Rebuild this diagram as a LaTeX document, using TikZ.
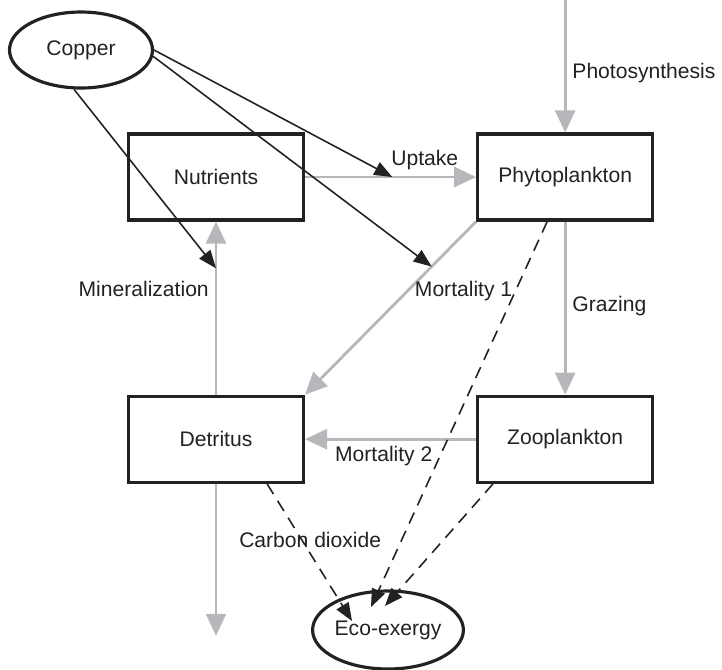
\documentclass[tikz,border=0pt]{standalone}
\usepackage{fontspec}
\setmainfont{Liberation Sans}
\usepackage{tikz}
\usetikzlibrary{shapes.geometric, arrows.meta, positioning}
\definecolor{flowgray}{HTML}{B5B7BA}
\definecolor{inkdark}{HTML}{222222}

\begin{document}
\begin{tikzpicture}[
    node distance=3.46cm and 3.42cm,
    every node/.style={font=\fontsize{12}{14}\selectfont, text=inkdark},
    box/.style={rectangle, draw=inkdark, line width=1.8pt,
                minimum width=3.5cm, minimum height=1.72cm, align=center},
    oval/.style={ellipse, draw=inkdark, line width=1.8pt, inner sep=0pt},
    flowarrow/.style={-{Triangle[length=0.44cm, width=0.4cm]},
                      line width=1.6pt, color=flowgray},
    cuarrow/.style={-{Triangle[length=0.36cm, width=0.28cm]},
                    line width=0.9pt, color=inkdark},
    exarrow/.style={cuarrow, dash pattern=on 0.24cm off 0.16cm}
]
\useasboundingbox (0,0) rectangle (14.44,-13.38);

% State variables
\node[box] (nutr) at (4.32,-3.54) {Nutrients};
\node[box, right=of nutr] (phyto) {Phytoplankton};
\node[box, below=of nutr] (detr) {Detritus};
\node[box, below=of phyto] (zoo) {Zooplankton};

\node[oval, minimum width=2.86cm, minimum height=1.52cm] (copper)
    at (1.62,-1.0) {Copper};
\node[oval, minimum width=3.0cm, minimum height=1.56cm] (eco)
    at (7.76,-12.6) {Eco-exergy};

\coordinate[above=2.68cm of phyto.north] (sun);
\coordinate[below=3.04cm of detr.south] (sink);

% Mass flows (grey)
\draw[flowarrow] (sun) -- node[right, pos=0.56] {Photosynthesis} (phyto);
\draw[flowarrow] (nutr) -- node[above, pos=0.7] {Uptake}
    coordinate[pos=0.51] (upt) (phyto);
\draw[flowarrow] (phyto.south west) -- node[right, pos=0.4] {Mortality 1}
    coordinate[pos=0.26] (mort) (detr.north east);
\draw[flowarrow] (detr) -- node[left, pos=0.61] {Mineralization}
    coordinate[pos=0.73] (mine) (nutr);
\draw[flowarrow] (phyto) -- node[right, pos=0.49] {Grazing} (zoo);
\draw[flowarrow] (zoo) -- node[below, pos=0.54] {Mortality 2} (detr);
\draw[flowarrow] (detr) -- node[right=0.32cm, pos=0.37] {Carbon dioxide} (sink);

% Copper effects
\draw[cuarrow] (copper.east) -- (upt);
\draw[cuarrow] (copper.-5) -- (mort);
\draw[cuarrow] (copper.-100) -- (mine);

% Contributions to eco-exergy
\draw[exarrow] ([xshift=-0.76cm]detr.south east)
    -- ([shift={(-0.72,0.18)}]eco.center);
\draw[exarrow] ([xshift=-0.36cm]phyto.south)
    -- ([shift={(-0.34,0.46)}]eco.center);
\draw[exarrow] ([xshift=0.34cm]zoo.south west)
    -- ([shift={(-0.06,0.48)}]eco.center);

\end{tikzpicture}
\end{document}
